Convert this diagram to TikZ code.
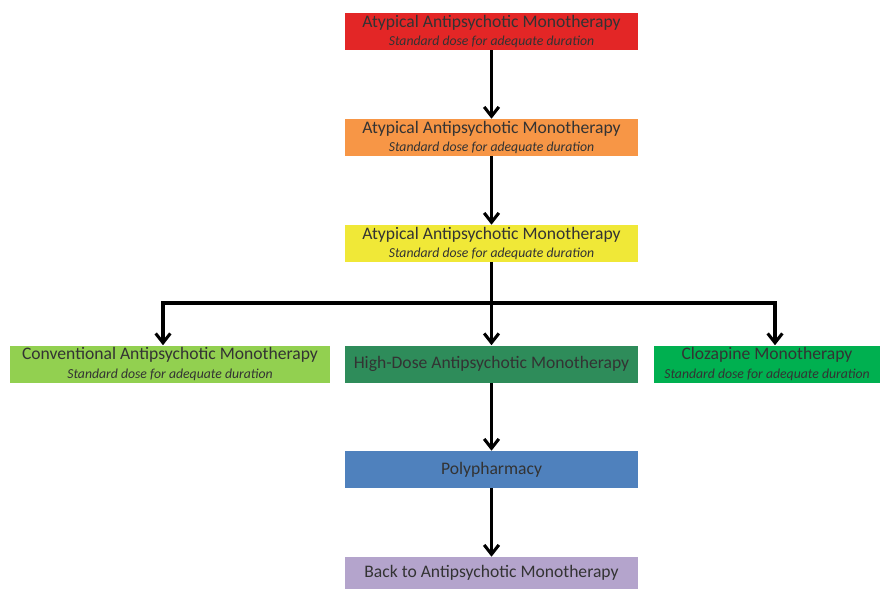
\documentclass[tikz,border=0pt]{standalone}
\usepackage{fontspec}
\setmainfont{Carlito}
\usetikzlibrary{arrows.meta}

\definecolor{redbox}{RGB}{227,38,38}
\definecolor{orangebox}{RGB}{247,150,70}
\definecolor{yellowbox}{RGB}{240,232,55}
\definecolor{lightgreenbox}{RGB}{146,208,80}
\definecolor{darkgreenbox}{RGB}{46,140,90}
\definecolor{greenbox}{RGB}{0,176,80}
\definecolor{bluebox}{RGB}{79,129,189}
\definecolor{purplebox}{RGB}{180,164,204}

\newcommand{\dosetxt}{{\fontsize{10.3}{11}\selectfont\itshape Standard dose for adequate duration}}

\begin{document}
\begin{tikzpicture}[x=0.75pt, y=-0.75pt, >={Straight Barb[length=7pt,width=11pt]},
   box/.style={rectangle, minimum width=219.75pt, minimum height=27.75pt, inner sep=0pt,
      align=center, text=black!80, font=\fontsize{13.2}{13.6}\selectfont},
   flow/.style={line width=2.3pt}]
   \useasboundingbox (0,0) rectangle (881,589);
   \node (a1) at (491.5,31.5) [box, fill=redbox] {Atypical Antipsychotic Monotherapy\\\dosetxt};
   \node (a2) at (491.5,137.5) [box, fill=orangebox] {Atypical Antipsychotic Monotherapy\\\dosetxt};
   \node (a3) at (491.5,243.5) [box, fill=yellowbox] {Atypical Antipsychotic Monotherapy\\\dosetxt};
   \node (conv) at (170,364) [box, minimum width=240pt, fill=lightgreenbox] {Conventional Antipsychotic Monotherapy\\\dosetxt};
   \node (hd) at (491.5,364) [box, fill=darkgreenbox] {High-Dose Antipsychotic Monotherapy};
   \node (cloz) at (767,364) [box, minimum width=169.5pt, fill=greenbox] {Clozapine Monotherapy\\\dosetxt};
   \node (poly) at (491.5,469.5) [box, fill=bluebox] {Polypharmacy};
   \node (back) at (491.5,573) [box, minimum height=24pt, fill=purplebox] {Back to Antipsychotic Monotherapy};
   \coordinate (split) at (491.5,303);
   \draw [flow] (a1)[->] -- (a2);
   \draw [flow] (a2)[->] -- (a3);
   \draw [flow] (a3)[->] -- (hd);
   \draw [flow] (split)[->] -| ([xshift=-5.25pt]conv.north);
   \draw [flow] (split)[->] -| ([xshift=6pt]cloz.north);
   \draw [flow] (hd)[->] -- (poly);
   \draw [flow] (poly)[->] -- (back);
\end{tikzpicture}
\end{document}
